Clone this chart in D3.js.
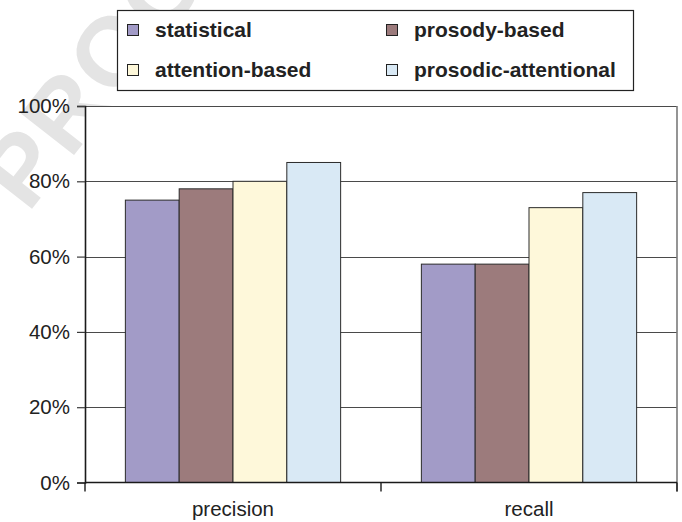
<!DOCTYPE html>
<html>
<head>
<meta charset="utf-8">
<script src="https://cdn.jsdelivr.net/npm/d3@7"></script>
<style>
  html, body { margin: 0; padding: 0; background: #fff; }
  svg { display: block; font-family: "Liberation Sans", Arial, sans-serif; }
</style>
</head>
<body>
<svg id="chart" width="682" height="522"></svg>
<script>
// Evaluation results per metric and system
const categories = ["precision", "recall"];
const seriesNames = ["statistical", "prosody-based", "attention-based", "prosodic-attentional"];
const statistical = [0.75, 0.58];
const prosodyBased = [0.78, 0.58];
const attentionBased = [0.80, 0.73];
const prosodicAttentional = [0.85, 0.77];
const seriesColors = ["#a29bc7", "#9c7b7c", "#fef8da", "#d9e9f5"];
const yTicks = [0, 0.2, 0.4, 0.6, 0.8, 1.0];

const seriesValues = [statistical, prosodyBased, attentionBased, prosodicAttentional];
const rows = categories.map((c, i) => ({
  category: c,
  values: seriesNames.map((s, j) => ({ series: s, value: seriesValues[j][i] }))
}));

const svg = d3.select("#chart");

// faint diagonal watermark behind everything
svg.append("text")
  .attr("transform", "translate(28,214) rotate(-52)")
  .attr("font-size", 98)
  .attr("font-weight", "bold")
  .attr("fill", "#e4e4e4")
  .attr("letter-spacing", 3)
  .text("PROOF");

const plot = { left: 85, right: 677, top: 106, bottom: 482.5 };

const x0 = d3.scaleBand().domain(categories).range([plot.left, plot.right]).paddingInner(0).paddingOuter(0);
const x1 = d3.scaleBand().domain(seriesNames).range([0, x0.bandwidth()]).paddingInner(0).paddingOuter(0.75);
const y = d3.scaleLinear().domain([0, 1]).range([plot.bottom, plot.top]);
const color = d3.scaleOrdinal().domain(seriesNames).range(seriesColors);

// plot background
svg.append("rect")
  .attr("x", plot.left).attr("y", plot.top)
  .attr("width", plot.right - plot.left).attr("height", plot.bottom - plot.top)
  .attr("fill", "#fff");

// horizontal gridlines
svg.append("g")
  .selectAll("line")
  .data(yTicks.filter(t => t > 0))
  .join("line")
  .attr("x1", plot.left).attr("x2", plot.right)
  .attr("y1", d => Math.round(y(d)) + 0.5).attr("y2", d => Math.round(y(d)) + 0.5)
  .attr("stroke", "#4a4a4a")
  .attr("stroke-width", 1.2);

// right border of the plot area
svg.append("line")
  .attr("x1", plot.right).attr("x2", plot.right)
  .attr("y1", plot.top).attr("y2", plot.bottom + 9)
  .attr("stroke", "#7a7a7a").attr("stroke-width", 1.6);

// bars
svg.append("g")
  .selectAll("g")
  .data(rows)
  .join("g")
  .attr("transform", d => `translate(${x0(d.category)},0)`)
  .selectAll("rect")
  .data(d => d.values)
  .join("rect")
  .attr("x", d => x1(d.series))
  .attr("y", d => y(d.value))
  .attr("width", x1.bandwidth())
  .attr("height", d => y(0) - y(d.value))
  .attr("fill", d => color(d.series))
  .attr("stroke", "#2a2a2a")
  .attr("stroke-width", 1);

// y axis
const yAxis = d3.axisLeft(y)
  .tickValues(yTicks)
  .tickFormat(d3.format(".0%"))
  .tickSize(8)
  .tickPadding(7);
const yg = svg.append("g").attr("transform", `translate(${plot.left},0)`).call(yAxis);
yg.select(".domain").attr("stroke", "#1a1a1a").attr("stroke-width", 1.6);
yg.selectAll(".tick line").attr("stroke", "#3a3a3a").attr("stroke-width", 1.2);
yg.selectAll(".tick text")
  .attr("font-size", 20.5)
  .attr("font-family", "'Liberation Sans', Arial, sans-serif")
  .attr("fill", "#222");

// x axis: category labels centred, ticks on category boundaries
const xg = svg.append("g").attr("transform", `translate(0,${plot.bottom})`);
xg.append("line")
  .attr("x1", plot.left).attr("x2", plot.right)
  .attr("stroke", "#1a1a1a").attr("stroke-width", 1.6);
xg.selectAll("line.bound")
  .data(categories.concat(["end"]))
  .join("line")
  .attr("class", "bound")
  .attr("x1", (d, i) => i < categories.length ? x0(d) : plot.right)
  .attr("x2", (d, i) => i < categories.length ? x0(d) : plot.right)
  .attr("y1", 0).attr("y2", 9)
  .attr("stroke", "#1a1a1a").attr("stroke-width", 1.4);
xg.selectAll("text")
  .data(categories)
  .join("text")
  .attr("x", d => x0(d) + x0.bandwidth() / 2)
  .attr("y", 33)
  .attr("text-anchor", "middle")
  .attr("font-size", 20.5)
  .attr("fill", "#222")
  .text(d => d);

// legend
const legend = svg.append("g");
legend.append("rect")
  .attr("x", 117.5).attr("y", 10.5)
  .attr("width", 516).attr("height", 80)
  .attr("fill", "#fff")
  .attr("stroke", "#222").attr("stroke-width", 1.2);
const legendPos = [[127, 30], [386, 30], [127, 70], [386, 70]];
const items = legend.selectAll("g.item")
  .data(seriesNames)
  .join("g")
  .attr("class", "item")
  .attr("transform", (d, i) => `translate(${legendPos[i][0]},${legendPos[i][1]})`);
items.append("rect")
  .attr("x", 0.5).attr("y", -5.5)
  .attr("width", 11).attr("height", 11)
  .attr("fill", d => color(d))
  .attr("stroke", "#222").attr("stroke-width", 1);
items.append("text")
  .attr("x", 28).attr("y", 0)
  .attr("dy", "0.35em")
  .attr("font-size", 21)
  .attr("font-weight", "bold")
  .attr("fill", "#222")
  .text(d => d);
</script>
</body>
</html>
